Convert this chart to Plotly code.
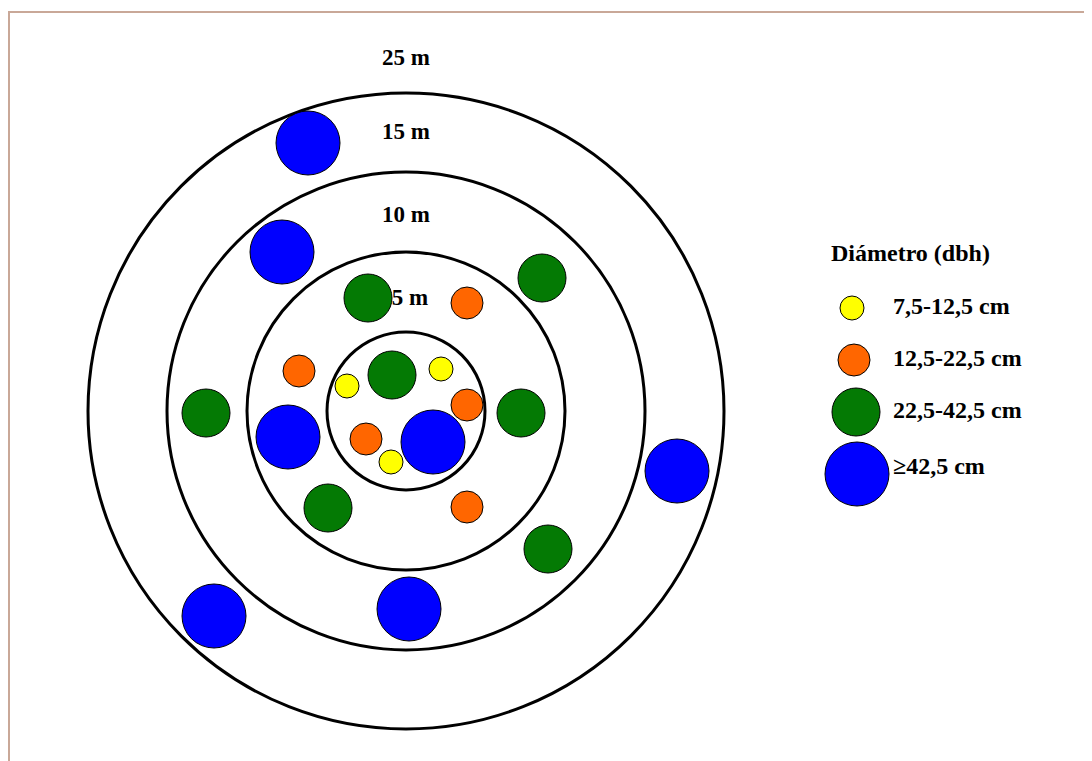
import plotly.graph_objects as go

# Plot units: pixels relative to the plot centre, y pointing up
ring_labels = ["5 m", "10 m", "15 m", "25 m"]
ring_radii = [79, 159, 239, 318]
label_pos = [(4, 112), (0, 195), (0, 278), (0, 352)]

classes = ["7,5-12,5 cm", "12,5-22,5 cm", "22,5-42,5 cm", "≥42,5 cm"]
class_colors = ["#ffff00", "#ff6600", "#047a04", "#0000ff"]
class_sizes = [24, 32, 48, 64]

yellow_x = [-59, 35, -15]
yellow_y = [25, 42, -51]
orange_x = [61, -107, 61, -40, 61]
orange_y = [108, 40, 6, -28, -96]
green_x = [-38, -14, 136, 115, -200, -78, 142]
green_y = [113, 36, 133, -2, -2, -97, -138]
blue_x = [-98, -124, -118, 27, 271, -192, 3]
blue_y = [268, 159, -26, -31, -60, -205, -198]

legend_title = "Diámetro (dbh)"
legend_marker_x = [446, 448, 450, 451]
legend_y = [103, 51, -1, -63]
legend_text_y = [103, 51, -1, -57]

font_family = "Liberation Serif, Times New Roman, serif"

fig = go.Figure()

# ring labels (drawn under the trees)
fig.add_trace(go.Scatter(
    x=[p[0] for p in label_pos], y=[p[1] for p in label_pos],
    text=ring_labels, mode="text", textposition="middle center",
    textfont=dict(family=font_family, size=23, color="black", weight="bold"),
    hoverinfo="skip", showlegend=False))

xs = [yellow_x, orange_x, green_x, blue_x]
ys = [yellow_y, orange_y, green_y, blue_y]
for i in range(4):
    fig.add_trace(go.Scatter(
        x=xs[i], y=ys[i], mode="markers", name=classes[i],
        marker=dict(size=class_sizes[i], color=class_colors[i], opacity=1,
                    line=dict(color="black", width=1)),
        showlegend=False))

# manual legend
fig.add_trace(go.Scatter(
    x=legend_marker_x, y=legend_y, mode="markers",
    marker=dict(size=class_sizes, color=class_colors, opacity=1,
                line=dict(color="black", width=1)),
    hoverinfo="skip", showlegend=False))
fig.add_trace(go.Scatter(
    x=[487] * 4, y=legend_text_y, text=classes, mode="text",
    textposition="middle right",
    textfont=dict(family=font_family, size=24, color="black", weight="bold"),
    hoverinfo="skip", showlegend=False))
fig.add_trace(go.Scatter(
    x=[425], y=[156], text=[legend_title], mode="text",
    textposition="middle right",
    textfont=dict(family=font_family, size=24, color="black", weight="bold"),
    hoverinfo="skip", showlegend=False))

shapes = []
for r in ring_radii:
    shapes.append(dict(type="circle", xref="x", yref="y",
                       x0=-r, x1=r, y0=-r, y1=r,
                       line=dict(color="black", width=3), layer="below"))
# frame
shapes.append(dict(type="rect", xref="x", yref="y",
                   x0=-397, x1=720, y0=-380, y1=399,
                   line=dict(color="#c9a898", width=2), layer="below"))

fig.update_layout(
    width=1092, height=761,
    margin=dict(l=0, r=0, t=0, b=0),
    paper_bgcolor="white", plot_bgcolor="white",
    xaxis=dict(range=[-398, 694], visible=False, fixedrange=True),
    yaxis=dict(range=[-358, 403], visible=False, fixedrange=True),
    shapes=shapes,
)

fig.write_html("out.html")
